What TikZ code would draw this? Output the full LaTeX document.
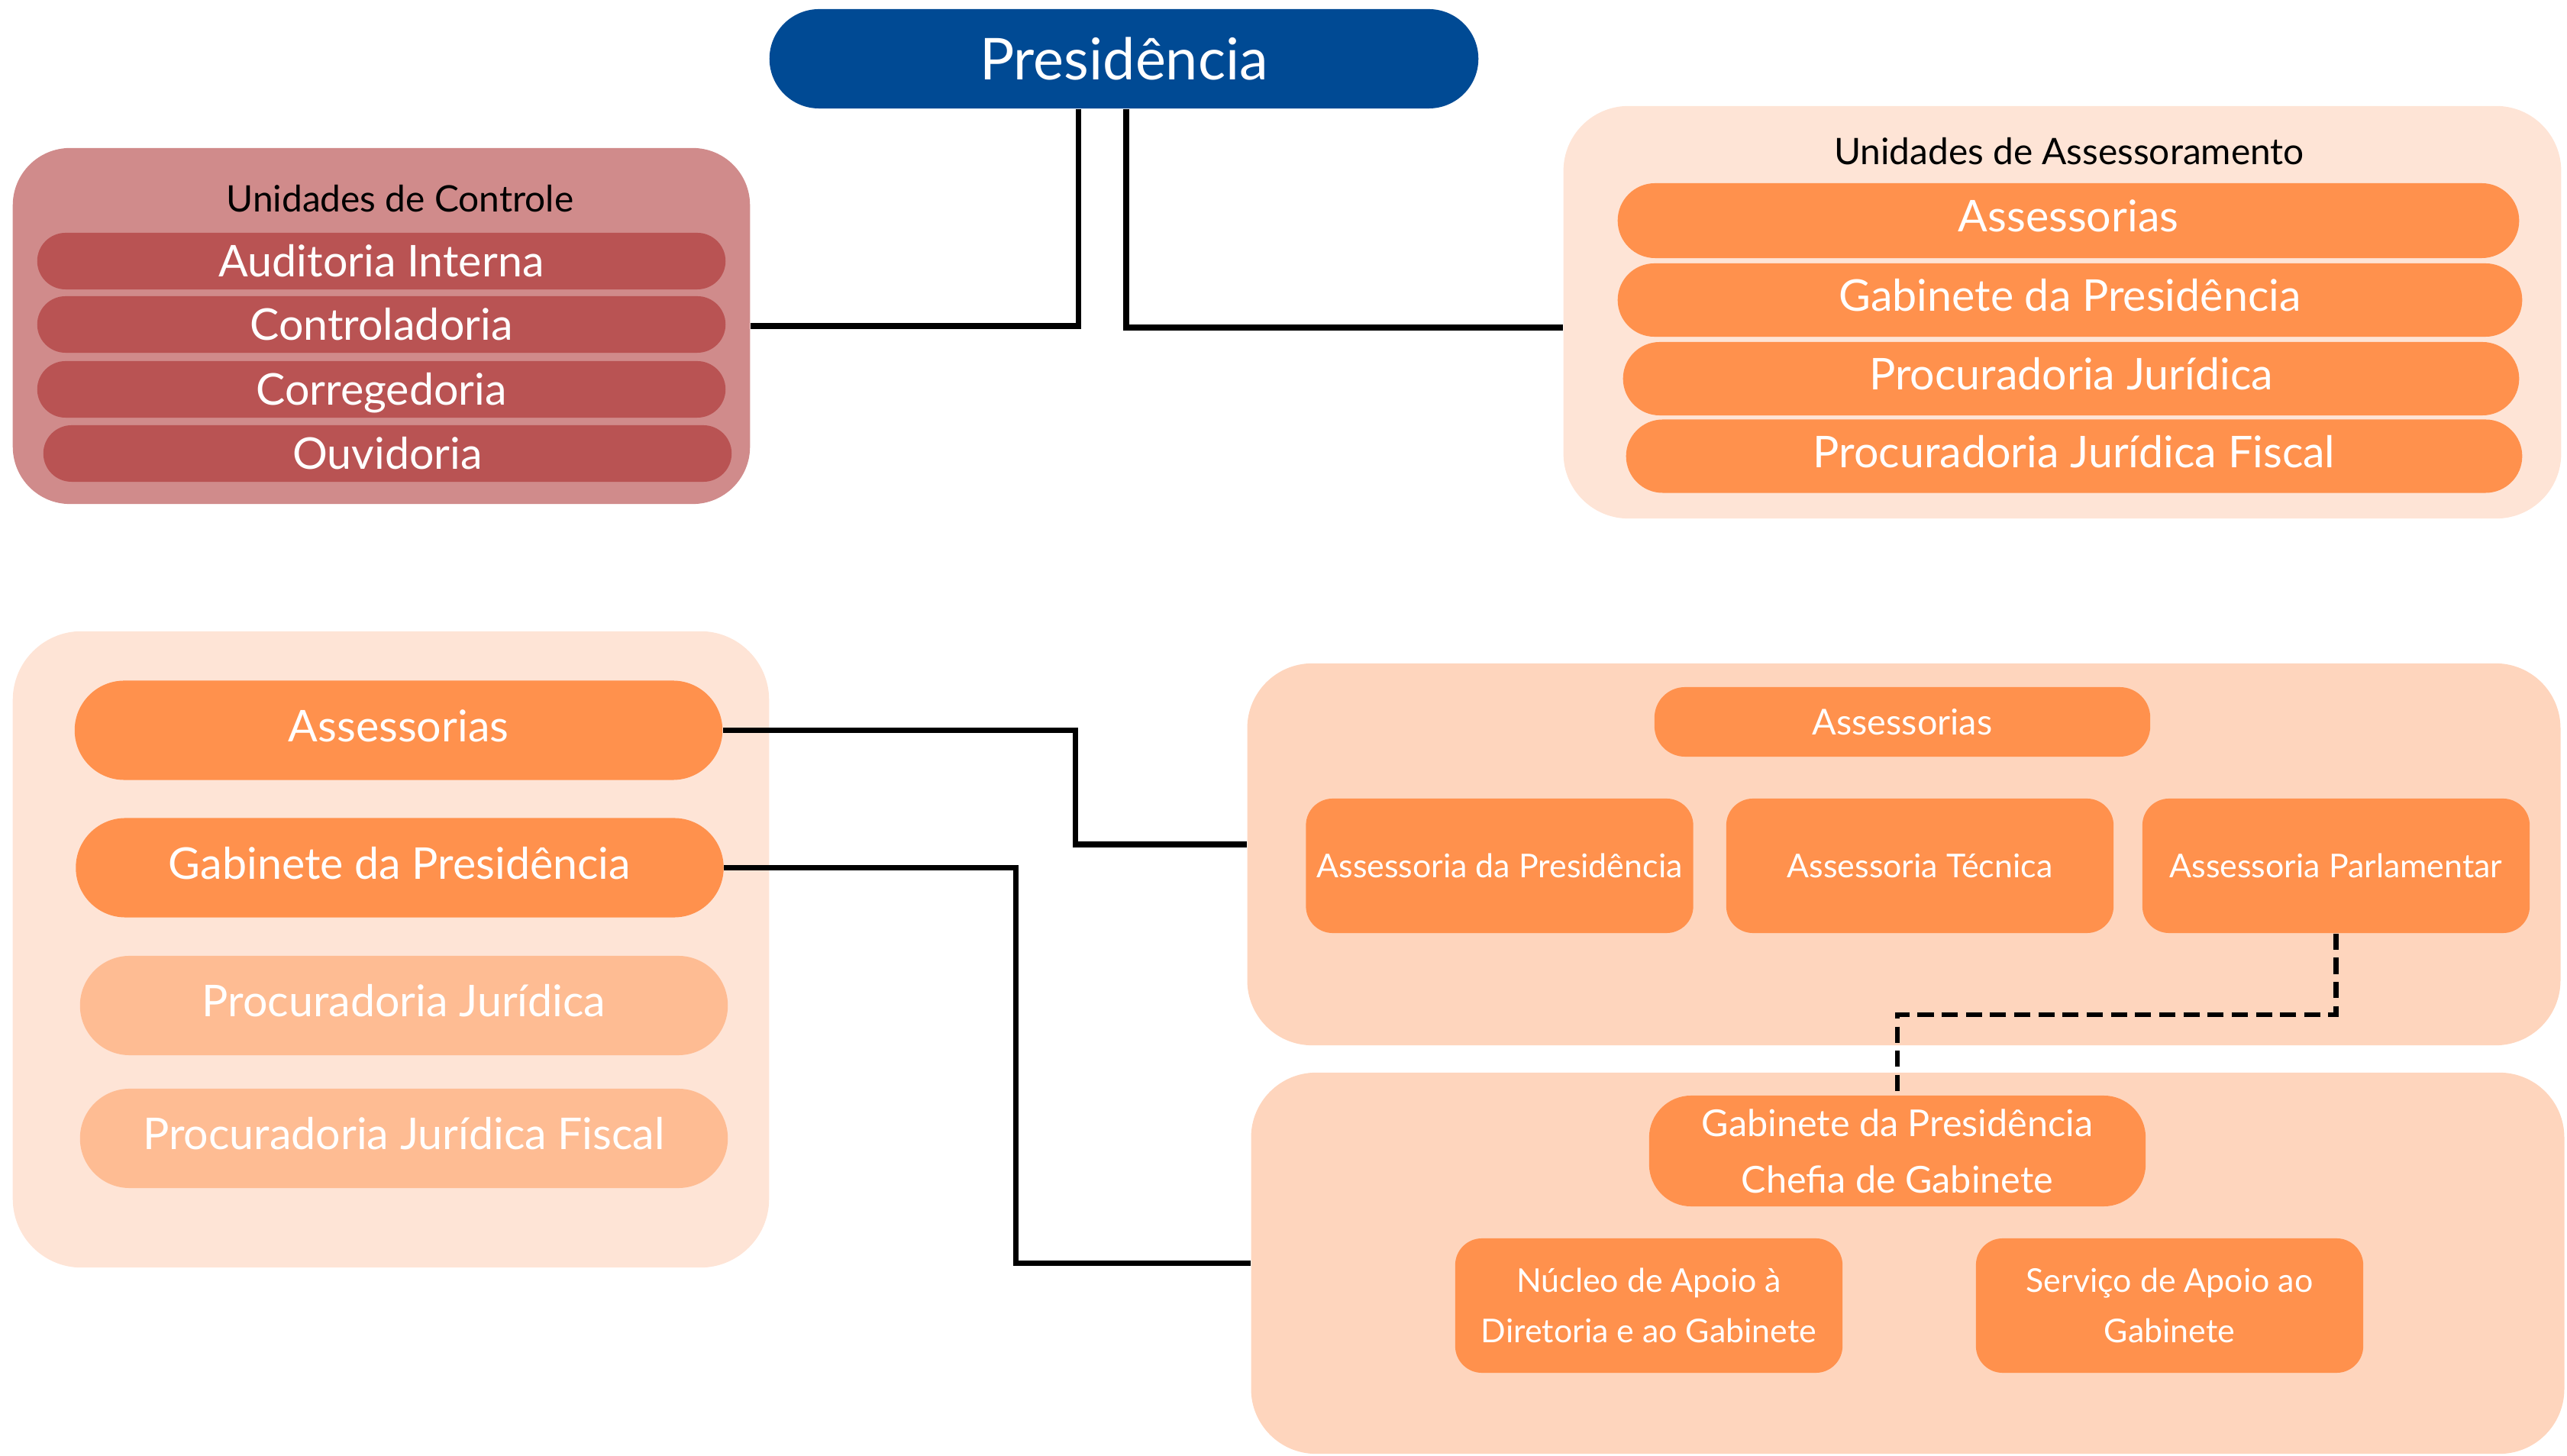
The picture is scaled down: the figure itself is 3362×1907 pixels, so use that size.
\documentclass[tikz,border=0pt]{standalone}
\usepackage{fontspec}
\setmainfont{Lato}
\usepackage{tikz}
\usetikzlibrary{positioning, calc, backgrounds}
\definecolor{presblue}{RGB}{0, 74, 148}
\definecolor{ctrlouter}{RGB}{208, 139, 139}
\definecolor{ctrlinner}{RGB}{185, 83, 83}
\definecolor{unitorange}{RGB}{255, 145, 77}
\definecolor{unitlight}{RGB}{254, 188, 147}
\definecolor{paleback}{RGB}{254, 228, 214}
\definecolor{peachback}{RGB}{254, 213, 189}

\begin{document}
\begin{tikzpicture}[
    x=0.01cm, y=-0.01cm,
    group/.style={rectangle, rounded corners=0.85cm, inner sep=0pt},
    pill/.style={rectangle, inner sep=0pt, align=center, text=white, text height=11.7pt, text depth=0pt, font=\fontsize{16.3}{19}\selectfont},
    ctrlitem/.style={pill, fill=ctrlinner, minimum width=9.01cm, minimum height=0.74cm, rounded corners=0.37cm},
    asritem/.style={pill, fill=unitorange, minimum height=0.96cm, rounded corners=0.48cm, text height=8.3pt},
    leftitem/.style={pill, minimum width=8.48cm, minimum height=1.3cm, rounded corners=0.65cm, text height=8.3pt},
    small/.style={rectangle, fill=unitorange, rounded corners=0.35cm, inner sep=0pt, align=center, text=white, minimum width=5.07cm, minimum height=1.76cm, font=\fontsize{12.2}{18.8}\selectfont},
    title/.style={inner sep=0pt, text height=9.7pt, text depth=0pt, font=\fontsize{13.6}{16}\selectfont},
    link/.style={line width=2pt},
    dashlink/.style={line width=1.8pt, dash pattern=on 6pt off 3pt}
]
    \useasboundingbox (0,0) rectangle (3362,1907);

    % Presidencia
    \node[pill, fill=presblue, minimum width=9.28cm, minimum height=1.3cm, rounded corners=0.65cm, text height=15.4pt, font=\fontsize{21.5}{24}\selectfont] (pres) at (1472,77) {Presidência};

    % Unidades de Controle
    \node[group, fill=ctrlouter, minimum width=9.65cm, minimum height=4.66cm, rounded corners=0.75cm] (ctrl) at (499.5,427) {};
    \node[title] (ctrltitle) at (524,260) {Unidades de Controle};
    \node[ctrlitem] (aud) at (499.5,342) {Auditoria Interna};
    \node[ctrlitem] (ctl) at (499.5,425) {Controladoria};
    \node[ctrlitem] (cor) at (499.5,510) {Corregedoria};
    \node[ctrlitem] (ouv) at (507.5,594) {Ouvidoria};

    % Unidades de Assessoramento
    \node[group, fill=paleback, minimum width=13.06cm, minimum height=5.4cm] (asr) at (2701,409) {};
    \node[title] (asrtitle) at (2710,198) {Unidades de Assessoramento};
    \node[asritem, minimum width=11.8cm, minimum height=0.98cm, rounded corners=0.49cm] (a1) at (2709,289) {Assessorias};
    \node[asritem, minimum width=11.84cm] (a2) at (2711,393) {Gabinete da Presidência};
    \node[asritem, minimum width=11.73cm] (a3) at (2712.5,496) {Procuradoria Jurídica};
    \node[asritem, minimum width=11.73cm] (a4) at (2716.5,597.5) {Procuradoria Jurídica Fiscal};

    % Bloco inferior esquerdo
    \node[group, fill=paleback, minimum width=9.9cm, minimum height=8.33cm, rounded corners=0.9cm] (left) at (512,1243.5) {};
    \node[leftitem, fill=unitorange] (b1) at (522,956.5) {Assessorias};
    \node[leftitem, fill=unitorange] (b2) at (523.5,1136.5) {Gabinete da Presidência};
    \node[leftitem, fill=unitlight] (b3) at (529,1317) {Procuradoria Jurídica};
    \node[leftitem, fill=unitlight] (b4) at (529,1491) {Procuradoria Jurídica Fiscal};

    % Assessorias
    \node[group, fill=peachback, minimum width=17.19cm, minimum height=5cm] (mid) at (2493.5,1119) {};
    \node[pill, fill=unitorange, minimum width=6.49cm, minimum height=0.91cm, rounded corners=0.4cm, text height=9.5pt, font=\fontsize{13.3}{16}\selectfont] (m0) at (2491.5,945.5) {Assessorias};
    \node[small] (m1) at (1964,1134) {Assessoria da Presidência};
    \node[small] (m2) at (2514.5,1134) {Assessoria Técnica};
    \node[small] (m3) at (3059.5,1134) {Assessoria Parlamentar};

    % Gabinete
    \node[group, fill=peachback, minimum width=17.19cm, minimum height=4.99cm] (bot) at (2498.5,1654.5) {};
    \node[small, minimum width=6.5cm, minimum height=1.45cm, rounded corners=0.55cm, font=\fontsize{13.8}{21}\selectfont] (chef) at (2485,1507.5) {Gabinete da Presidência\\Chefia de Gabinete};
    \node[small] (nuc) at (2159.5,1710) {Núcleo de Apoio à\\Diretoria e ao Gabinete};
    \node[small] (srv) at (2841.5,1710) {Serviço de Apoio ao\\Gabinete};

    % Ligacoes
    \draw[link] ([xshift=-0.59cm]pres.south) |- (ctrl.east);
    \draw[link] ([xshift=0.03cm]pres.south) |- ([yshift=-0.2cm]asr.west);
    \draw[link] (b1.east) -- ++(462,0) |- ([yshift=0.13cm]mid.west);
    \draw[link] (b2.east) -- ++(382,0) |- (bot.west);
    \draw[dashlink] (m3.south) -- ++(0,106) -| (chef.north);

\end{tikzpicture}
\end{document}
